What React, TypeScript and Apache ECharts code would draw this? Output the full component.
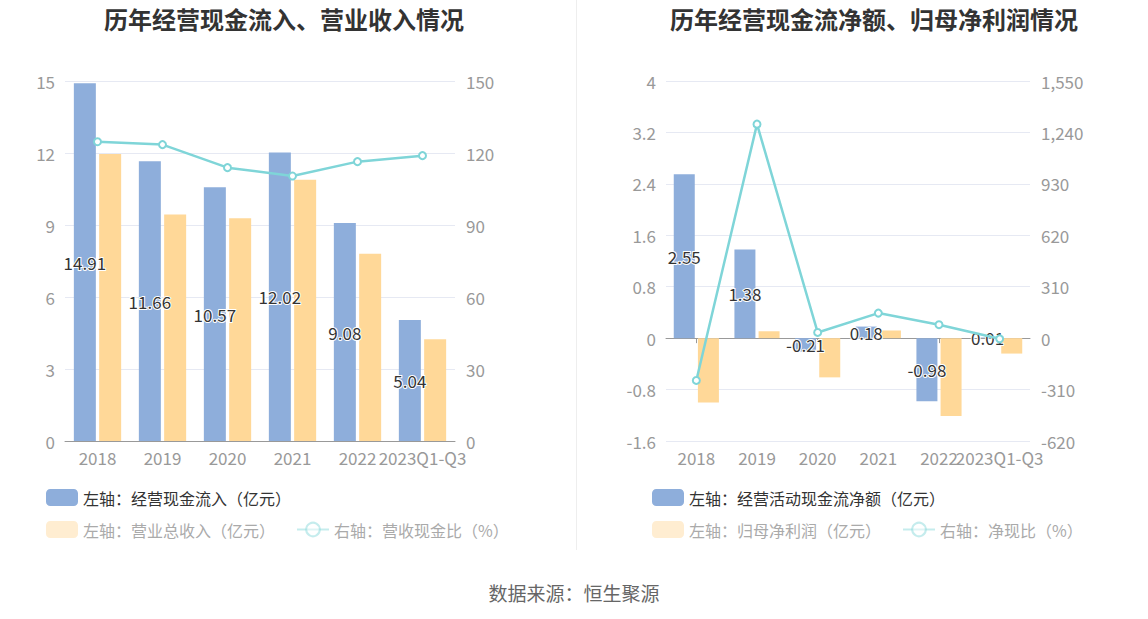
import React, { useEffect, useRef } from "react";
import * as echarts from "echarts";

const categories = ["2018", "2019", "2020", "2021", "2022", "2023Q1-Q3"];
// Left chart
const cashInflow = [14.91, 11.66, 10.57, 12.02, 9.08, 5.04];
const revenue = [11.96, 9.44, 9.28, 10.89, 7.8, 4.24];
const cashRatio = [124.7, 123.5, 113.9, 110.4, 116.4, 118.9];
// Right chart
const netCashFlow = [2.55, 1.38, -0.21, 0.18, -0.98, 0.01];
const netProfit = [-1.0, 0.107, -0.61, 0.119, -1.21, -0.24];
const netCashRatio = [-255, 1290, 34.4, 151, 81, -4.2];

const leftTicks = { min: 0, max: 15, interval: 3 };
const leftRightTicks = { min: 0, max: 150, interval: 30 };
const rightTicks = { min: -1.6, max: 4, interval: 0.8 };
const rightRightTicks = { min: -620, max: 1550, interval: 310 };

const FONT = "'Noto Sans CJK SC', 'Noto Sans', sans-serif";
const BLUE = "#8eaedb";
const ORANGE = "#ffd898";
const CYAN = "#7fd5d8";
const GRID = "#e6e9f3";
const AXIS_TEXT = "#999";

const N1 = "左轴：经营现金流入（亿元）";
const N2 = "左轴：营业总收入（亿元）";
const N3 = "右轴：营收现金比（%）";
const M1 = "左轴：经营活动现金流净额（亿元）";
const M2 = "左轴：归母净利润（亿元）";
const M3 = "右轴：净现比（%）";

export default function App() {
  const ref = useRef<HTMLDivElement>(null);
  useEffect(() => {
    if (!ref.current) return;
    const chart = echarts.init(ref.current, null, { renderer: "svg" });
    const barLabel = {
      show: true,
      position: "inside",
      color: "#333",
      fontSize: 17,
      fontFamily: FONT,
      textBorderColor: "#fff",
      textBorderWidth: 2,
    };
    const axisLabel = { color: AXIS_TEXT, fontSize: 17, fontFamily: FONT };
    const fmt = (v: number) => {
      const s = Math.round(v * 100) / 100;
      return s.toLocaleString("en-US");
    };
    const fadedText = { color: "#aaa" };
    const legendBase = {
      itemWidth: 32,
      itemHeight: 17,
      itemGap: 21,
      textStyle: { color: "#333", fontSize: 16, fontFamily: FONT },
      selectedMode: false,
    };
    const titleStyle = { fontSize: 24, fontWeight: "bold", color: "#333", fontFamily: FONT };
    const option: any = {
      animation: false,
      backgroundColor: "#fff",
      title: [
        {
          text: "历年经营现金流入、营业收入情况",
          left: 279,
          top: 1,
          textAlign: "center",
          textStyle: titleStyle,
        },
        {
          text: "历年经营现金流净额、归母净利润情况",
          left: 869,
          top: 1,
          textAlign: "center",
          textStyle: titleStyle,
        },
        {
          text: "数据来源：恒生聚源",
          left: 569,
          top: 578,
          textAlign: "center",
          textStyle: { fontSize: 19, fontWeight: "normal", color: "#666", fontFamily: FONT },
        },
      ],
      graphic: [
        {
          type: "line",
          shape: { x1: 576.5, y1: 0, x2: 576.5, y2: 550 },
          style: { stroke: "#eeeeee", lineWidth: 1 },
        },
      ],
      legend: [
        { ...legendBase, left: 41, top: 484, data: [{ name: N1, icon: "roundRect" }] },
        {
          ...legendBase,
          left: 41,
          top: 516,
          data: [
            { name: N2, icon: "roundRect", itemStyle: { opacity: 0.45 }, textStyle: fadedText },
            { name: N3, itemStyle: { opacity: 0.45 }, lineStyle: { opacity: 0.45 }, textStyle: fadedText },
          ],
        },
        { ...legendBase, left: 647, top: 484, data: [{ name: M1, icon: "roundRect" }] },
        {
          ...legendBase,
          left: 647,
          top: 516,
          data: [
            { name: M2, icon: "roundRect", itemStyle: { opacity: 0.45 }, textStyle: fadedText },
            { name: M3, itemStyle: { opacity: 0.45 }, lineStyle: { opacity: 0.45 }, textStyle: fadedText },
          ],
        },
      ],
      grid: [
        { left: 65, right: 693, top: 81, bottom: 178 },
        { left: 666, right: 118, top: 81, bottom: 178 },
      ],
      xAxis: [
        {
          type: "category",
          gridIndex: 0,
          data: categories,
          axisLine: { lineStyle: { color: "#999" } },
          axisTick: { alignWithLabel: true, lineStyle: { color: "#999" } },
          axisLabel: { ...axisLabel, interval: 0, margin: 8 },
        },
        {
          type: "category",
          gridIndex: 1,
          data: categories,
          position: "bottom",
          axisLine: { show: false, onZero: false },
          axisTick: { show: false },
          axisLabel: { ...axisLabel, interval: 0, margin: 8 },
        },
        {
          type: "category",
          gridIndex: 1,
          data: categories,
          position: "bottom",
          axisLine: { show: true, onZero: true, lineStyle: { color: "#999" } },
          axisTick: { show: true, alignWithLabel: true, lineStyle: { color: "#999" } },
          axisLabel: { show: false },
        },
      ],
      yAxis: [
        {
          type: "value",
          gridIndex: 0,
          ...leftTicks,
          axisLabel: { ...axisLabel, margin: 10 },
          splitLine: { lineStyle: { color: GRID } },
          axisLine: { show: false },
          axisTick: { show: false },
        },
        {
          type: "value",
          gridIndex: 0,
          ...leftRightTicks,
          axisLabel: { ...axisLabel, margin: 11 },
          splitLine: { show: false },
          axisLine: { show: false },
          axisTick: { show: false },
        },
        {
          type: "value",
          gridIndex: 1,
          ...rightTicks,
          axisLabel: { ...axisLabel, margin: 10, formatter: fmt },
          splitLine: { lineStyle: { color: GRID } },
          axisLine: { show: false },
          axisTick: { show: false },
        },
        {
          type: "value",
          gridIndex: 1,
          ...rightRightTicks,
          axisLabel: { ...axisLabel, margin: 11, formatter: fmt },
          splitLine: { show: false },
          axisLine: { show: false },
          axisTick: { show: false },
        },
      ],
      series: [
        {
          name: N1,
          type: "bar",
          xAxisIndex: 0,
          yAxisIndex: 0,
          data: cashInflow,
          barWidth: 22,
          barGap: "15%",
          itemStyle: { color: BLUE },
          label: barLabel,
        },
        {
          name: N2,
          type: "bar",
          xAxisIndex: 0,
          yAxisIndex: 0,
          data: revenue,
          barWidth: 22,
          barGap: "15%",
          itemStyle: { color: ORANGE },
        },
        {
          name: N3,
          type: "line",
          xAxisIndex: 0,
          yAxisIndex: 1,
          data: cashRatio,
          symbol: "emptyCircle",
          symbolSize: 7,
          itemStyle: { color: CYAN, borderWidth: 2 },
          lineStyle: { color: CYAN, width: 2.5 },
        },
        {
          name: M1,
          type: "bar",
          xAxisIndex: 1,
          yAxisIndex: 2,
          data: netCashFlow,
          barWidth: 21,
          barGap: "15%",
          itemStyle: { color: BLUE },
          label: barLabel,
        },
        {
          name: M2,
          type: "bar",
          xAxisIndex: 1,
          yAxisIndex: 2,
          data: netProfit,
          barWidth: 21,
          barGap: "15%",
          itemStyle: { color: ORANGE },
        },
        {
          name: M3,
          type: "line",
          xAxisIndex: 1,
          yAxisIndex: 3,
          data: netCashRatio,
          symbol: "emptyCircle",
          symbolSize: 7,
          itemStyle: { color: CYAN, borderWidth: 2 },
          lineStyle: { color: CYAN, width: 2.5 },
        },
      ],
    };
    chart.setOption(option);
    return () => chart.dispose();
  }, []);
  return (
    <div
      ref={ref}
      style={{ position: "absolute", left: 0, top: 0, width: 1148, height: 619 }}
    />
  );
}
